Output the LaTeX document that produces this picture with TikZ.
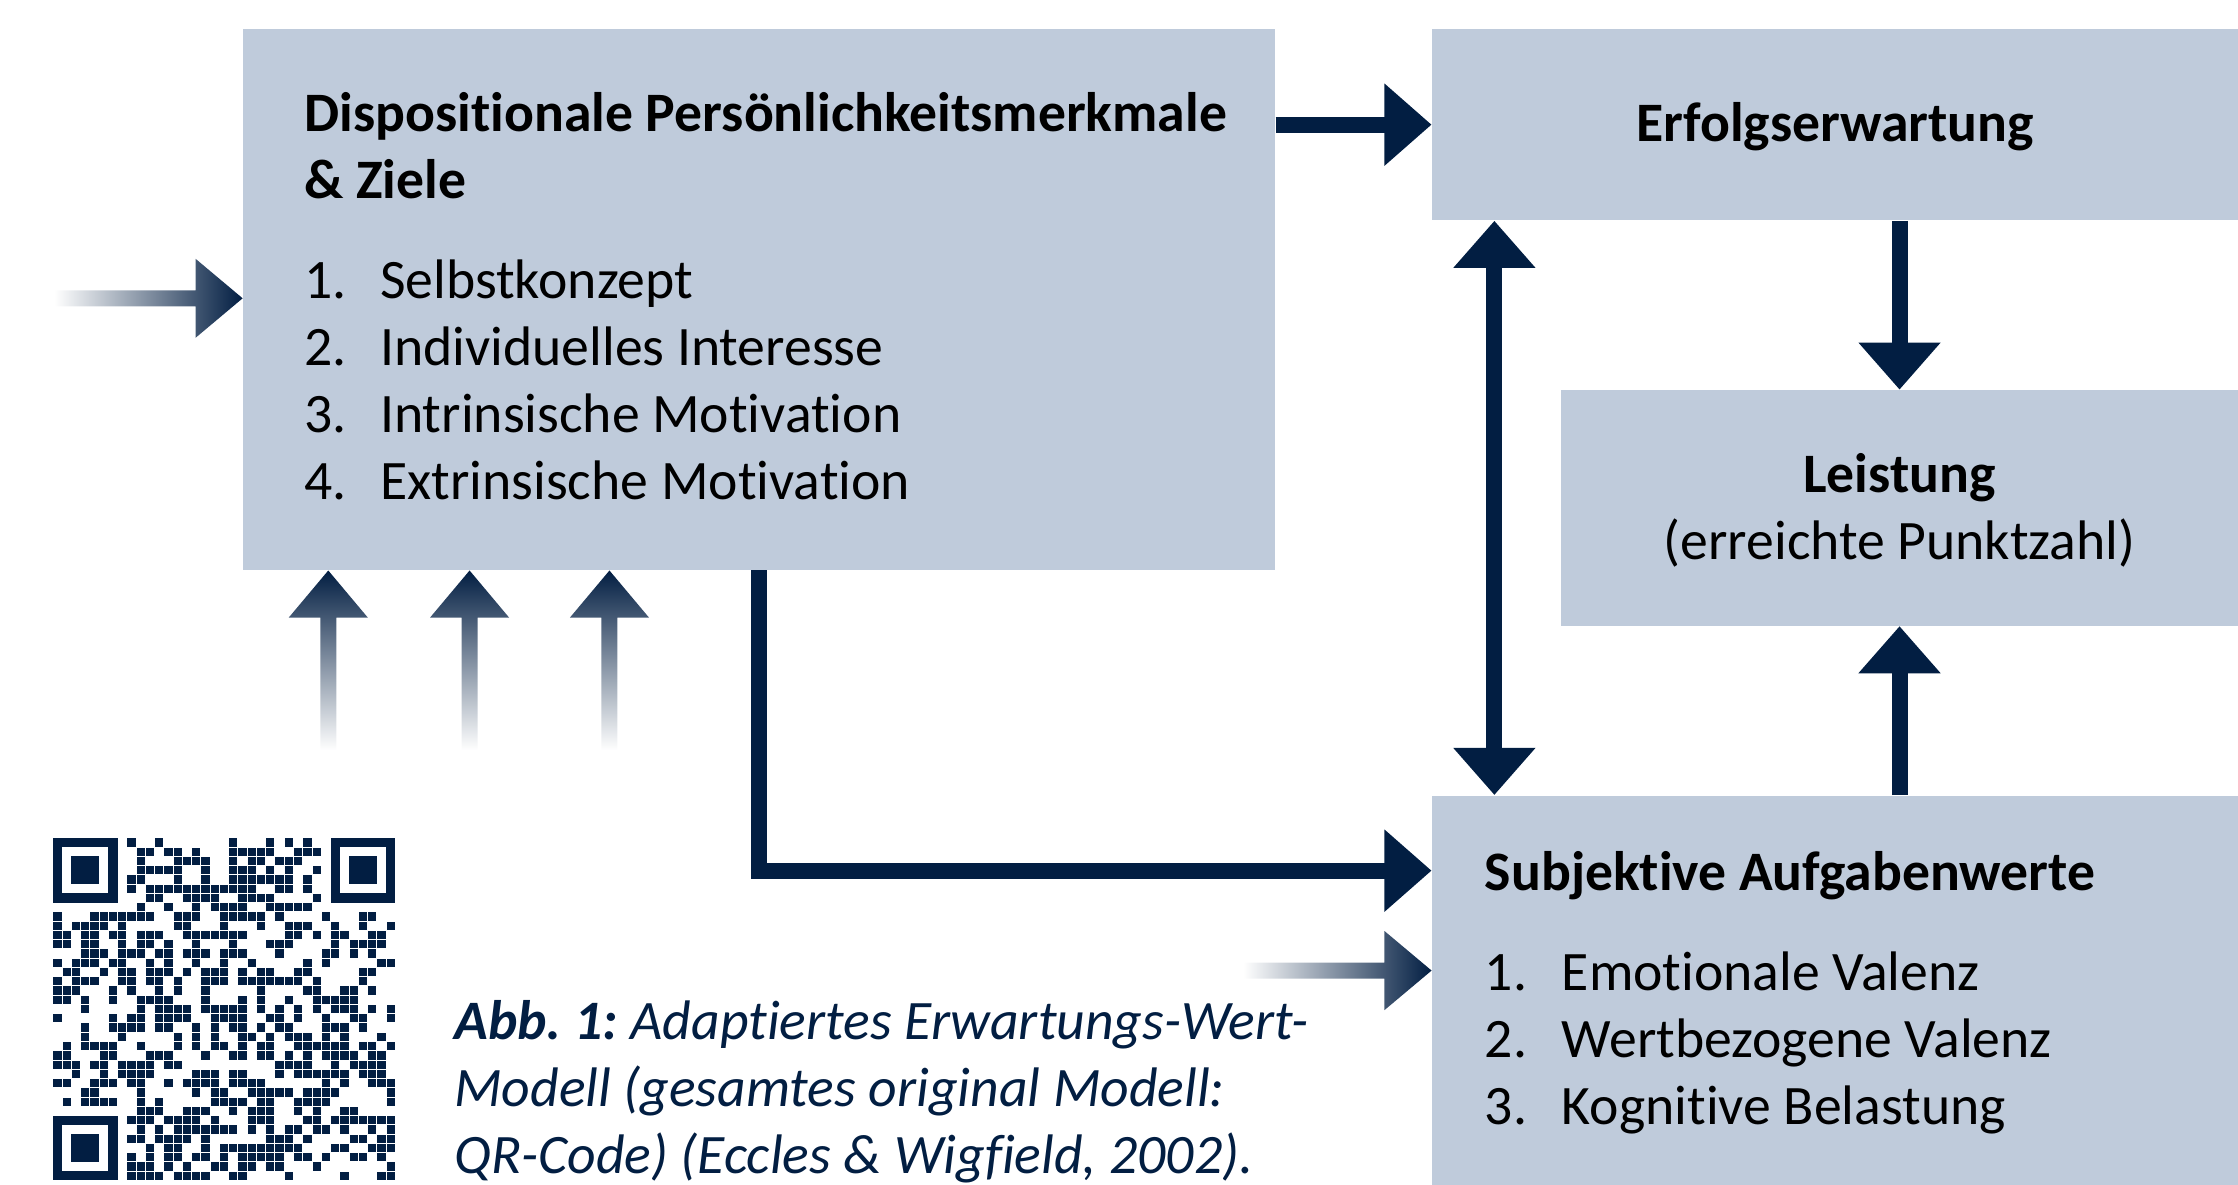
\documentclass[tikz,border=0pt]{standalone}
\usepackage{fontspec}
\setmainfont[RawFeature={-liga}]{Carlito}
\usepackage{xcolor}
\usepackage{tikz}
\usetikzlibrary{arrows.meta,calc,positioning}

\definecolor{boxblue}{HTML}{BFCBDB}
\definecolor{navy}{HTML}{021E42}

\def\pxl{0.2mm}
\frenchspacing

\begin{document}
\begin{tikzpicture}[x=0.2mm, y=-0.2mm,
    line join=miter,
    box/.style={fill=boxblue, inner sep=0pt, anchor=north west},
    title/.style={font=\bfseries, anchor=base west, inner sep=0pt},
    item/.style={anchor=base west, inner sep=0pt},
    caption/.style={navy, font=\itshape, anchor=base west, inner sep=0pt},
    arrow/.style={navy, line width=2.24mm, -{Triangle[length=6.6mm,width=11.1mm]}},
    dblarrow/.style={arrow, {Triangle[length=6.6mm,width=11.1mm]}-{Triangle[length=6.6mm,width=11.1mm]}},
    fadeR/.style={left color=white, right color=navy},
    fadeU/.style={bottom color=white, top color=navy}]
\fontsize{22.2}{26.7}\selectfont
\useasboundingbox (0,0) rectangle (1568,830);

\def\hl{33}   % head length
\def\hw{27.7} % half head width
\def\sw{5.6}  % half shaft width

% BOXES
\node[box, minimum width=723*\pxl, minimum height=379*\pxl] (disp) at (170,20) {};
\node[box, minimum width=565*\pxl, minimum height=134*\pxl] (erfolg) at (1003,20) {};
\node[box, minimum width=475*\pxl, minimum height=165*\pxl] (leist) at (1093,273) {};
\node[box, minimum width=565*\pxl, minimum height=273*\pxl] (subj) at (1003,557) {};

% TEXTS
\node[title] (dispT) at (213,92) {Dispositionale Persönlichkeitsmerkmale};
\node[title] (dispT2) at (213,139) {\& Ziele};
\foreach \t [count=\k] in {Selbstkonzept, Individuelles Interesse,
    Intrinsische Motivation, Extrinsische Motivation}{
\node[item] (dispN\k) at (213,{209+47*(\k-1)}) {\k.};
\node[item] (dispI\k) at (266,{209+47*(\k-1)}) {\t};
}
\node[title, anchor=base] (erfolgT) at (erfolg.center |- 0,99) {Erfolgserwartung};
\node[title, anchor=base] (leistT) at (leist.center |- 0,345) {Leistung};
\node[item, anchor=base] (leistT2) at (leist.center |- 0,392) {(erreichte Punktzahl)};
\node[title] (subjT) at (1040,624) {Subjektive Aufgabenwerte};
\foreach \t [count=\k] in {Emotionale Valenz, Wertbezogene Valenz, Kognitive Belastung}{
\node[item] (subjN\k) at (1040,{694+47*(\k-1)}) {\k.};
\node[item] (subjI\k) at (1094,{694+47*(\k-1)}) {\t};
}

% CAPTION
\node[caption] (cap1) at (318,728) {\textbf{Abb. 1:} Adaptiertes Erwartungs-Wert-};
\node[caption] (cap2) at (318,775) {Modell (gesamtes original Modell:};
\node[caption] (cap3) at (318,822) {QR-Code) (Eccles \& Wigfield, 2002).};

% ARROWS
\coordinate (elbow) at (532,610);
\coordinate (dbl) at (1047,0);
\draw[arrow] (disp.east |- erfolg) -- (erfolg.west);
\draw[arrow] (erfolg.south -| leist) -- (leist.north);
\draw[arrow] (subj.north -| leist) -- (leist.south);
\draw[dblarrow] (erfolg.south -| dbl) -- (subj.north -| dbl);
\draw[arrow] (disp.south -| elbow) |- (subj.west |- elbow);

% FADING ARROWS
\coordinate (dispIn) at ($(disp.north west)+(0,189)$);
\coordinate (subjIn) at ($(subj.north west)+(0,123)$);
\shade[fadeR] (dispIn) -- ++(-\hl,-\hw) -- ++(0,\hw-\sw) -- ++(-99,0)
  -- ++(0,2*\sw) -- ++(99,0) -- ++(0,\hw-\sw) -- cycle;
\shade[fadeR] (subjIn) -- ++(-\hl,-\hw) -- ++(0,\hw-\sw) -- ++(-99,0)
  -- ++(0,2*\sw) -- ++(99,0) -- ++(0,\hw-\sw) -- cycle;
\foreach \x in {230,329,427}{
\coordinate (up\x) at (disp.south -| \x,0);
\shade[fadeU] (up\x) -- ++(-\hw,\hl) -- ++(\hw-\sw,0) -- ++(0,93)
  -- ++(2*\sw,0) -- ++(0,-93) -- ++(\hw-\sw,0) -- cycle;
}

% QR CODE
\def\qm{6.486}
\pgfmathsetseed{11}
\foreach \i in {0,...,36}{
\foreach \j [evaluate={\fz=int((\i<8 && \j<8) || (\i>28 && \j<8) || (\i<8 && \j>28));
             \rnd=int(random(0,99)<52);}] in {0,...,36}{
\ifnum\fz=0 \ifnum\rnd=1
\fill[navy] ({37+\i*\qm+0.35},{587+\j*\qm+0.35}) rectangle ++(\qm-0.7,\qm-0.7);
\fi\fi
}}
\foreach \fx/\fy in {0/0,30/0,0/30}{
\fill[navy] ({37+\fx*\qm},{587+\fy*\qm}) rectangle ++(7*\qm,7*\qm);
\fill[white] ({37+(\fx+1)*\qm},{587+(\fy+1)*\qm}) rectangle ++(5*\qm,5*\qm);
\fill[navy] ({37+(\fx+2)*\qm},{587+(\fy+2)*\qm}) rectangle ++(3*\qm,3*\qm);
}

\end{tikzpicture}
\end{document}
